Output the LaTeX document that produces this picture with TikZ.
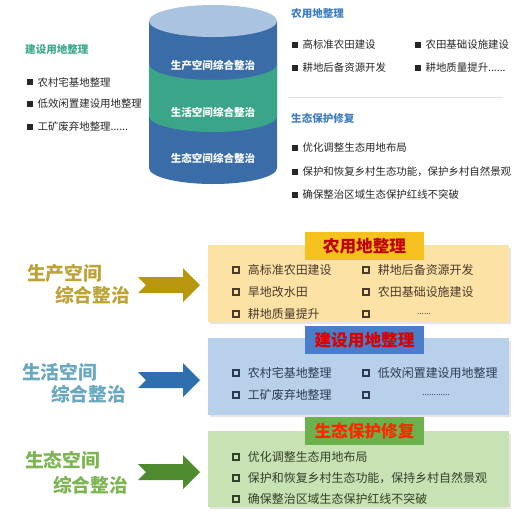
\documentclass[tikz,border=0pt]{standalone}
\usepackage{fontspec}
\setmainfont{Noto Sans CJK SC}
\usetikzlibrary{positioning}
\definecolor{cylblue}{HTML}{3A6CA8}
\definecolor{cylgreen}{HTML}{3BA58A}
\definecolor{cyltop}{HTML}{A9C3E0}
\definecolor{ttlgreen}{HTML}{3DA88C}
\definecolor{ttlblue}{HTML}{3F7DC0}
\definecolor{pbox}{HTML}{FCE2A4}
\definecolor{phead}{HTML}{F4C11F}
\definecolor{parrow}{HTML}{B8960E}
\definecolor{plabel}{HTML}{BCA33A}
\definecolor{ptext}{HTML}{4A3A2C}
\definecolor{lbox}{HTML}{B9D0EA}
\definecolor{lhead}{HTML}{4A7DCA}
\definecolor{larrow}{HTML}{2E6FAE}
\definecolor{llabel}{HTML}{6AA8C0}
\definecolor{ltext}{HTML}{2B3A52}
\definecolor{ebox}{HTML}{C8E2B4}
\definecolor{ehead}{HTML}{6CB24C}
\definecolor{earrow}{HTML}{4E8A2E}
\definecolor{elabel}{HTML}{7DB553}
\definecolor{etext}{HTML}{33402A}

\begin{document}
\begin{tikzpicture}[x=0.03cm,y=-0.03cm,
  ttl/.style={anchor=west,inner sep=0pt,font=\fontsize{9}{10}\selectfont\bfseries},
  item/.style={anchor=west,inner sep=0pt,font=\fontsize{8.9}{10}\selectfont,text=black!85},
  dot/.style={fill=black!85,inner sep=0pt,minimum size=5.8pt},
  cyltext/.style={text=white,font=\fontsize{9}{10}\selectfont\bfseries},
  hbox/.style={draw=#1,line width=1.4pt,inner sep=0pt,minimum size=5.6pt},
  low/.style={anchor=west,inner sep=0pt,font=\fontsize{10.2}{12}\selectfont},
  head/.style={inner sep=0pt,minimum width=3.57cm,minimum height=0.86cm,
    font=\fontsize{14.2}{16}\selectfont\bfseries},
  side/.style={anchor=west,inner sep=0pt,font=\fontsize{16}{18}\selectfont\bfseries}]
\useasboundingbox (0,0) rectangle (531,527);
%\draw[help lines] (0,0) grid[step=50] (531,527);
\coordinate (C0) at (213,21);
\coordinate (C1) at (213,64);
\coordinate (C2) at (213,116);
\coordinate (C3) at (213,168);
%
% cylinder
\fill[cylblue] (149,21) -- (149,168) arc[start angle=180,end angle=0,x radius=64,y radius=16] -- (277,21) -- cycle;
\fill[cylgreen] (149,64) arc[start angle=180,end angle=0,x radius=64,y radius=16]
  -- (277,116) arc[start angle=0,end angle=180,x radius=64,y radius=16] -- cycle;
\fill[cyltop] (C0) ellipse[x radius=64,y radius=16];
\node[cyltext] (s1) at (213,66) {生产空间综合整治};
\node[cyltext] (s2) at (213,112) {生活空间综合整治};
\node[cyltext] (s3) at (213,158) {生态空间综合整治};
%
% left list
\node[ttl,text=ttlgreen] (jsT) at (25,50) {建设用地整理};
\foreach \y/\t [count=\i] in {82/农村宅基地整理,104/低效闲置建设用地整理,127/{工矿废弃地整理......}}{
  \node[dot] (jb\i) at (30,\y) {};
  \node[item,right=3.2pt of jb\i] (jt\i) {\t};
}
%
% right lists
\node[ttl,text=ttlblue] (nyT) at (291,14) {农用地整理};
\foreach \x/\y/\t [count=\i] in {295/45/高标准农田建设,295/68/耕地后备资源开发,418/45/农田基础设施建设,418/68/{耕地质量提升......}}{
  \node[dot] (nb\i) at (\x,\y) {};
  \node[item,right=3.2pt of nb\i] (nt\i) {\t};
}
\draw[black!12,line width=0.8pt] (288,97) -- (503,97);
\node[ttl,text=ttlblue] (stT) at (291,118) {生态保护修复};
\foreach \y/\t [count=\i] in {148/优化调整生态用地布局,172/{保护和恢复乡村生态功能，保护乡村自然景观},195/确保整治区域生态保护红线不突破}{
  \node[dot] (sb\i) at (295,\y) {};
  \node[item,right=3.2pt of sb\i] (st\i) {\t};
}
%
% boxes
\fill[black!10] (210,248) rectangle (511,324);
\fill[pbox] (208,245) rectangle (509,322);
\fill[black!10] (210,341) rectangle (511,417);
\fill[lbox] (208,338) rectangle (509,415);
\fill[black!10] (210,434) rectangle (511,509);
\fill[ebox] (208,431) rectangle (509,507);
%
% arrows
\foreach \y/\c in {285/parrow,380/larrow,472/earrow}
\fill[\c] (138,\y-8) -- (183,\y-8) -- (183,\y-17) -- (200,\y) -- (183,\y+17) -- (183,\y+8) -- (138,\y+8) -- (146,\y) -- cycle;
%
% production row
\node[side,text=plabel] (pL1) at (27,273) {生产空间};
\node[side,text=plabel] (pL2) at (55,295) {综合整治};
\node[head,fill=phead,text=red!75!black] (pH) at (364.5,246) {农用地整理};
\foreach \x/\y/\t [count=\i] in {236/270/高标准农田建设,236/292/旱地改水田,236/314/耕地质量提升,366/270/耕地后备资源开发,366/292/农田基础设施建设,366/314/{}}{
  \node[hbox=ptext] (pb\i) at (\x,\y) {};
  \node[low,text=ptext,right=6.5pt of pb\i] (pt\i) {\t};
}
\node[inner sep=0pt,font=\scriptsize,text=ptext] (pD) at (424,314) {......};
%
% living row
\node[side,text=llabel] (lL1) at (22,372) {生活空间};
\node[side,text=llabel] (lL2) at (51,394) {综合整治};
\node[head,fill=lhead,text=red!85!black] (lH) at (364.5,340) {建设用地整理};
\foreach \x/\y/\t [count=\i] in {236/373/农村宅基地整理,236/395/工矿废弃地整理,366/373/低效闲置建设用地整理,366/395/{}}{
  \node[hbox=ltext] (lb\i) at (\x,\y) {};
  \node[low,text=ltext,right=6.5pt of lb\i] (lt\i) {\t};
}
\node[inner sep=0pt,font=\scriptsize,text=ltext] (lD) at (436,395) {............};
%
% ecology row
\node[side,text=elabel] (eL1) at (25,460) {生态空间};
\node[side,text=elabel] (eL2) at (53,485) {综合整治};
\node[head,fill=ehead,text=red!70!orange] (eH) at (364.5,431) {生态保护修复};
\foreach \y/\t [count=\i] in {457/优化调整生态用地布局,478/{保护和恢复乡村生态功能，保持乡村自然景观},499/确保整治区域生态保护红线不突破}{
  \node[hbox=etext] (eb\i) at (236,\y) {};
  \node[low,text=etext,right=6.5pt of eb\i] (et\i) {\t};
}
\end{tikzpicture}
\end{document}
